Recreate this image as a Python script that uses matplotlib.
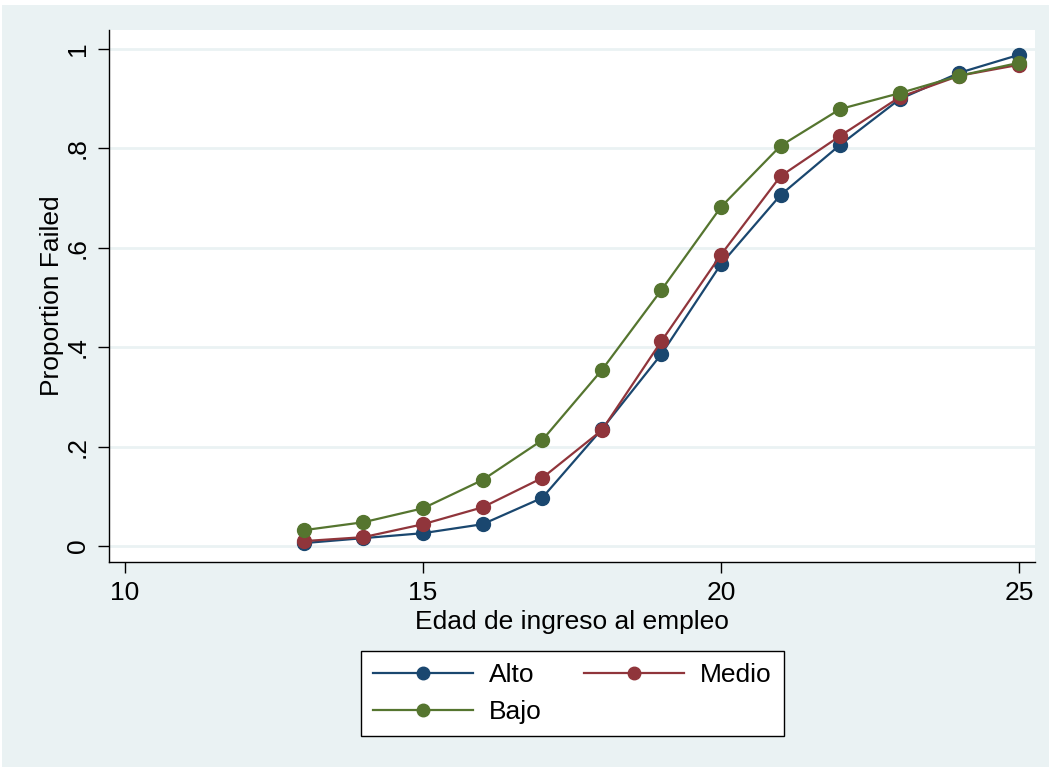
import matplotlib.pyplot as plt
import matplotlib.patches as mpatches

plt.rcParams['font.family'] = ['Liberation Sans', 'DejaVu Sans']

edad = [13, 14, 15, 16, 17, 18, 19, 20, 21, 22, 23, 24, 25]
alto = [0.006, 0.016, 0.026, 0.044, 0.097, 0.235, 0.386, 0.567, 0.706, 0.807, 0.899, 0.952, 0.988]
medio = [0.010, 0.018, 0.044, 0.078, 0.137, 0.233, 0.412, 0.586, 0.744, 0.825, 0.903, 0.946, 0.968]
bajo = [0.032, 0.048, 0.076, 0.133, 0.213, 0.354, 0.515, 0.682, 0.805, 0.879, 0.911, 0.946, 0.972]

x_ticks = [10, 15, 20, 25]
y_ticks = [0, 0.2, 0.4, 0.6, 0.8, 1]
y_labels = ['0', '.2', '.4', '.6', '.8', '1']

bg = '#eaf2f3'
fig = plt.figure(figsize=(10.49, 7.67), dpi=100)
fig.patch.set_facecolor('white')
# background panel (the top few pixels are left white, as in the cropped original)
fig.patches.append(mpatches.Rectangle((0.002, 0), 0.998, 1 - 5 / 767,
                                      transform=fig.transFigure, facecolor=bg,
                                      edgecolor='none', zorder=-10))

ax = fig.add_axes([109 / 1049, 1 - 562 / 767, (1035 - 109) / 1049, (562 - 30) / 767])
ax.set_facecolor('white')

l1, = ax.plot(edad, alto, color='#1a476f', marker='o', markersize=10, linewidth=1.6, label='Alto')
l2, = ax.plot(edad, medio, color='#90353b', marker='o', markersize=10, linewidth=1.6, label='Medio')
l3, = ax.plot(edad, bajo, color='#55752f', marker='o', markersize=10, linewidth=1.6, label='Bajo')

ax.set_xlim(9.73, 25.27)
ax.set_ylim(-0.032, 1.038)
ax.set_xticks(x_ticks)
ax.set_yticks(y_ticks)
ax.set_yticklabels(y_labels, rotation=90, va='center')
ax.tick_params(axis='both', labelsize=19, length=8, width=1, direction='out', pad=6)
ax.yaxis.grid(True, color=bg, linewidth=2)
ax.set_axisbelow(True)
for s in ['top', 'right']:
    ax.spines[s].set_visible(False)
for s in ['left', 'bottom']:
    ax.spines[s].set_linewidth(1)

ax.set_xlabel('Edad de ingreso al empleo', fontsize=19, labelpad=3)
ax.set_ylabel('Proportion Failed', fontsize=19, labelpad=1)

# legend fills column by column, so order handles to read Alto, Medio / Bajo by rows
leg = fig.legend([l1, l3, l2], ['Alto', 'Bajo', 'Medio'], loc='center',
                 bbox_to_anchor=(572.5 / 1049, 1 - 693.5 / 767), ncol=2,
                 fontsize=19, frameon=True, fancybox=False, edgecolor='black',
                 handlelength=3.8, markerscale=0.9, columnspacing=1.6,
                 borderpad=0.45, labelspacing=0.5, handletextpad=0.6)
leg.get_frame().set_linewidth(1)
leg.get_frame().set_facecolor('white')
leg.get_frame().set_alpha(1)

plt.savefig('out.png', dpi=100, facecolor=fig.get_facecolor())
